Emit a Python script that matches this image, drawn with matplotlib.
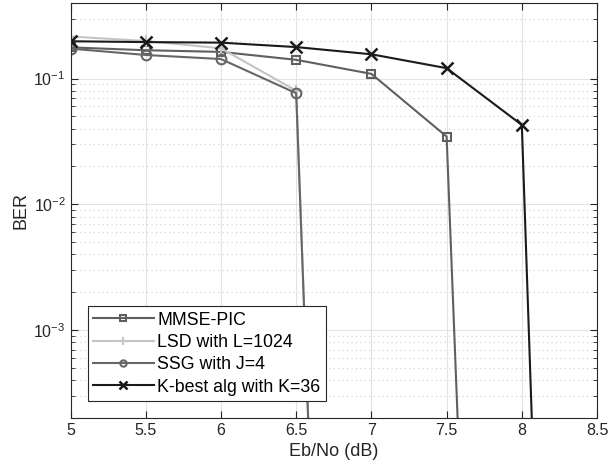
import numpy as np
import matplotlib.pyplot as plt
from matplotlib.ticker import LogLocator, NullFormatter

plt.rcParams['font.family'] = ['Liberation Sans', 'DejaVu Sans']

# Eb/No points (dB) and BER per detector; the last point of each curve
# is the (near-zero) error floor that falls off the bottom of the axes
ebno_mmse = [5, 5.5, 6, 6.5, 7, 7.5, 8]
ber_mmse = [0.177, 0.168, 0.163, 0.141, 0.109, 0.0346, 1.6e-17]

ebno_lsd = [5, 5.5, 6, 6.5, 7]
ber_lsd = [0.216, 0.199, 0.174, 0.080, 4e-18]

ebno_ssg = [5, 5.5, 6, 6.5, 7]
ber_ssg = [0.173, 0.154, 0.143, 0.0765, 4e-18]

ebno_kbest = [5, 5.5, 6, 6.5, 7, 7.5, 8, 8.5]
ber_kbest = [0.198, 0.195, 0.193, 0.178, 0.156, 0.121, 0.0428, 1e-19]

labels = ['MMSE-PIC', 'LSD with L=1024', 'SSG with J=4', 'K-best alg with K=36']

fig = plt.figure(figsize=(6.08, 4.74), dpi=100)
ax = fig.add_axes([0.116, 0.118, 0.866, 0.876])

ax.semilogy(ebno_mmse, ber_mmse, color='#5f5f5f', lw=1.5, marker='s', ms=6,
            mfc='none', mew=1.5, label=labels[0])
ax.semilogy(ebno_lsd, ber_lsd, color='#c4c4c4', lw=1.5, marker='+', ms=8,
            mew=1.5, label=labels[1])
ax.semilogy(ebno_ssg, ber_ssg, color='#666666', lw=1.5, marker='o', ms=7,
            mfc='none', mew=1.5, label=labels[2])
ax.semilogy(ebno_kbest, ber_kbest, color='#1a1a1a', lw=1.5, marker='x', ms=9,
            mew=1.8, label=labels[3])

ax.set_xlim(5, 8.5)
ax.set_ylim(2e-4, 0.4)
ax.set_xticks(np.arange(5, 8.51, 0.5))
ax.set_xticklabels(['5', '5.5', '6', '6.5', '7', '7.5', '8', '8.5'])
ax.yaxis.set_major_locator(LogLocator(base=10, numticks=10))
ax.yaxis.set_minor_locator(LogLocator(base=10, subs=np.arange(2, 10), numticks=20))
ax.yaxis.set_minor_formatter(NullFormatter())

ax.grid(True, which='major', color='#e3e3e3', lw=0.8, ls='-')
ax.grid(True, which='minor', axis='y', color='#cfcfcf', lw=0.8, ls=(0, (1, 3)))
ax.set_axisbelow(True)

for s in ax.spines.values():
    s.set_color('#262626')
    s.set_linewidth(0.8)
ax.tick_params(which='both', direction='in', top=True, right=True,
               colors='#262626', labelsize=11.5)
ax.tick_params(which='major', length=5)
ax.tick_params(which='minor', length=3)

ax.set_xlabel('Eb/No (dB)', fontsize=13, color='#262626', labelpad=4)
ax.set_ylabel('BER', fontsize=13, color='#262626', labelpad=3)

leg = ax.legend(loc='lower left', bbox_to_anchor=(0.033, 0.041), borderaxespad=0,
                fontsize=12.8, fancybox=False, framealpha=1, edgecolor='#262626',
                handlelength=3.4, handletextpad=0.2, labelspacing=0.3,
                borderpad=0.3, markerscale=0.65)
leg.get_frame().set_linewidth(0.8)

fig.savefig('out.png', dpi=100)
